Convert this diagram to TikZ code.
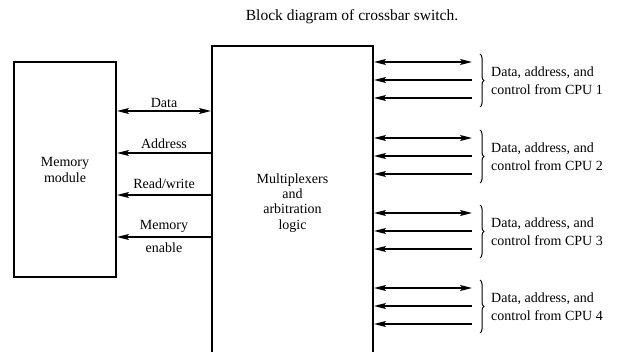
\documentclass[tikz,border=0pt]{standalone}
\usepackage{fontspec}
\setmainfont{Liberation Serif}
\usetikzlibrary{arrows.meta,decorations.pathreplacing}
\begin{document}
\begin{tikzpicture}[x=1pt,y=-1pt,
  tip/.tip={Stealth[length=12pt,width=6pt,inset=2.5pt]},
  blk/.style={draw,line width=2pt,inner sep=0pt,align=center,font=\fontsize{14}{16}\selectfont},
  sig/.style={line width=1.6pt,-tip},
  bus/.style={line width=1.6pt,tip-tip},
  lbl/.style={font=\fontsize{14}{16}\selectfont,inner sep=0pt},
  grp/.style={font=\fontsize{14}{18}\selectfont,align=left,anchor=west,inner sep=0pt},
  brc/.style={line width=1pt,decorate,decoration={brace,amplitude=4pt}}]
\useasboundingbox (0,0) rectangle (618,352);

% title
\node[font=\fontsize{15.5}{18}\selectfont] (title) at (352,17) {Block diagram of crossbar switch.};

% memory module and switch logic
\node[blk,minimum width=102pt,minimum height=215pt] (mem) at (65,169.5) {Memory\\module};
\node[blk,minimum width=161pt,minimum height=314pt,font=\fontsize{14}{15.3}\selectfont] (mux) at (292.5,203) {Multiplexers\\and\\arbitration\\logic};

% memory-side buses
\draw[bus] (mux.west |- 0,111) -- (mem.east |- 0,111);
\draw[sig] (mux.west |- 0,153) -- (mem.east |- 0,153);
\draw[sig] (mux.west |- 0,195) -- (mem.east |- 0,195);
\draw[sig] (mux.west |- 0,237) -- (mem.east |- 0,237);
\node[lbl] (ldata) at (164,103) {Data};
\node[lbl] (laddr) at (164,144) {Address};
\node[lbl] (lrw)   at (164,184) {Read/write};
\node[lbl] (lme1)  at (164,226) {Memory};
\node[lbl] (lme2)  at (164,248) {enable};

% CPU-side buses
\foreach \i/\y in {1/62,2/138,3/213,4/288}{
  \coordinate (c\i a) at (472,\y);
  \coordinate (c\i b) at (472,\y+18);
  \coordinate (c\i c) at (472,\y+36);
  \draw[bus] (c\i a) -- (mux.east |- c\i a);
  \draw[sig] (c\i b) -- (mux.east |- c\i b);
  \draw[sig] (c\i c) -- (mux.east |- c\i c);
  \coordinate (t\i) at (480,\y-8);
  \coordinate (u\i) at (480,\y+45);
  \draw[brc] (t\i) -- (u\i);
  \node[grp] (g\i) at (491,\y+18.5) {Data, address, and\\control from CPU \i};
}
\end{tikzpicture}
\end{document}
